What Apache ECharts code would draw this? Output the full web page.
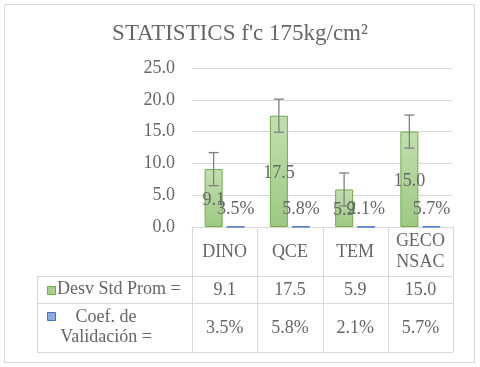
<!DOCTYPE html>
<html>
<head>
<meta charset="utf-8">
<script src="https://cdn.jsdelivr.net/npm/echarts@6/dist/echarts.min.js"></script>
<style>
  html, body { margin: 0; padding: 0; background: #fff; }
  #main { width: 480px; height: 367px; }
</style>
</head>
<body>
<div id="main"></div>
<script>
// datos
var categories = ['DINO', 'QCE', 'TEM', 'GECO NSAC'];
var desvStd = [9.1, 17.5, 5.9, 15.0];
var desvErr = [2.6, 2.6, 2.6, 2.6];
var coefVal = [3.5, 5.8, 2.1, 5.7];          // en %
var seriesNames = ['Desv Std Prom =', 'Coef. de Validación ='];
var yTicks = [0, 5, 10, 15, 20, 25];

var font = 'Liberation Serif';
var txt = '#666666';
var lineCol = '#d9d9d9';
var gridLeft = 192, gridRight = 27, gridTop = 68, gridBottom = 140;
var barW = 18, gapPx = 4;

var myChart = echarts.init(document.getElementById('main'));

var option = {
    backgroundColor: '#fff',
    title: {
        text: "STATISTICS f'c 175kg/cm²",
        left: 'center',
        top: 17,
        textStyle: { fontFamily: font, fontWeight: 'normal', fontSize: 23, color: txt }
    },
    grid: { left: gridLeft, right: gridRight, top: gridTop, bottom: gridBottom },
    xAxis: {
        type: 'category',
        data: categories,
        axisLine: { lineStyle: { color: lineCol } },
        axisTick: { show: false },
        axisLabel: {
            fontFamily: font, fontSize: 18, color: txt,
            verticalAlign: 'middle', margin: 25, lineHeight: 21,
            formatter: function (v) { return v.replace(' ', '\n'); }
        }
    },
    yAxis: {
        type: 'value',
        min: yTicks[0],
        max: yTicks[yTicks.length - 1],
        interval: 5,
        axisLine: { show: false },
        axisTick: { show: false },
        splitLine: { lineStyle: { color: lineCol } },
        axisLabel: {
            fontFamily: font, fontSize: 18, color: txt, margin: 17,
            formatter: function (v) { return v.toFixed(1); }
        }
    },
    series: [
        {
            name: seriesNames[0],
            type: 'bar',
            barWidth: barW,
            barGap: (gapPx / barW * 100) + '%',
            data: desvStd,
            itemStyle: {
                color: new echarts.graphic.LinearGradient(0, 0, 0, 1, [
                    { offset: 0, color: '#c3dfb0' },
                    { offset: 1, color: '#9dc983' }
                ]),
                borderColor: '#70ad47',
                borderWidth: 1
            },
            label: {
                show: true, position: 'inside', offset: [0, 2],
                fontFamily: font, fontSize: 18, color: txt,
                formatter: function (p) { return p.value.toFixed(1); }
            },
            z: 2
        },
        {
            name: seriesNames[1],
            type: 'bar',
            barWidth: barW,
            data: coefVal.map(function (v) { return v / 100; }),
            itemStyle: { color: '#8faadc', borderColor: '#4472c4', borderWidth: 1 },
            label: {
                show: true, position: 'top', distance: 8,
                fontFamily: font, fontSize: 18, color: txt,
                formatter: function (p) { return coefVal[p.dataIndex].toFixed(1) + '%'; }
            },
            z: 3
        },
        {
            // barras de error
            type: 'custom',
            data: desvStd.map(function (v, i) { return [i, v - desvErr[i], v + desvErr[i]]; }),
            renderItem: function (params, api) {
                var off = -(barW + gapPx) / 2;
                var lo = api.coord([api.value(0), api.value(1)]);
                var hi = api.coord([api.value(0), api.value(2)]);
                var x = lo[0] + off;
                var cap = 5;
                var st = { stroke: '#7f7f7f', lineWidth: 1.3 };
                return {
                    type: 'group',
                    children: [
                        { type: 'line', shape: { x1: x, y1: lo[1], x2: x, y2: hi[1] }, style: st },
                        { type: 'line', shape: { x1: x - cap, y1: hi[1], x2: x + cap, y2: hi[1] }, style: st },
                        { type: 'line', shape: { x1: x - cap, y1: lo[1], x2: x + cap, y2: lo[1] }, style: st }
                    ]
                };
            },
            z: 4
        }
    ]
};
myChart.setOption(option);

// tabla de datos (estilo Excel)
var W = 480, H = 367;
var x0 = gridLeft, x1 = W - gridRight;
var yAxisY = H - gridBottom;
var rowTop = 276, rowMid = 303, rowBot = 352, tabLeft = 37;
var colW = (x1 - x0) / categories.length;
var g = [];
var ls = { stroke: lineCol, lineWidth: 1 };

g.push({ type: 'rect', shape: { x: 4.5, y: 4.5, width: 470, height: 358 },
         style: { fill: null, stroke: lineCol, lineWidth: 1 }, silent: true });

for (var i = 0; i <= categories.length; i++) {
    var xl = Math.round(x0 + i * colW) + 0.5;
    g.push({ type: 'line', shape: { x1: xl, y1: yAxisY, x2: xl, y2: rowBot }, style: ls });
}
g.push({ type: 'line', shape: { x1: tabLeft + 0.5, y1: rowTop, x2: tabLeft + 0.5, y2: rowBot }, style: ls });
[rowTop, rowMid, rowBot].forEach(function (y) {
    g.push({ type: 'line', shape: { x1: tabLeft, y1: y + 0.5, x2: x1, y2: y + 0.5 }, style: ls });
});

// leyenda en la tabla
g.push({ type: 'rect', shape: { x: 47.5, y: 286.5, width: 8, height: 8 },
         style: { fill: '#a9d18e', stroke: '#70ad47', lineWidth: 1 } });
g.push({ type: 'text', left: 57, top: 280,
         style: { text: seriesNames[0], font: '18px "' + font + '"', fill: txt } });
g.push({ type: 'rect', shape: { x: 47.5, y: 312.5, width: 8, height: 8 },
         style: { fill: '#8faadc', stroke: '#4472c4', lineWidth: 1 } });
g.push({ type: 'text', x: 106, y: 307,
         style: { text: seriesNames[1].replace('de ', 'de\n'), font: '18px "' + font + '"', fill: txt,
                  align: 'center', lineHeight: 20 } });

categories.forEach(function (c, i) {
    var cx = myChart.convertToPixel({ xAxisIndex: 0 }, c);
    g.push({ type: 'text', x: cx, y: 290,
             style: { text: desvStd[i].toFixed(1), font: '18px "' + font + '"', fill: txt,
                      align: 'center', verticalAlign: 'middle' } });
    g.push({ type: 'text', x: cx, y: 328,
             style: { text: coefVal[i].toFixed(1) + '%', font: '18px "' + font + '"', fill: txt,
                      align: 'center', verticalAlign: 'middle' } });
});

myChart.setOption({ graphic: g });
</script>
</body>
</html>
